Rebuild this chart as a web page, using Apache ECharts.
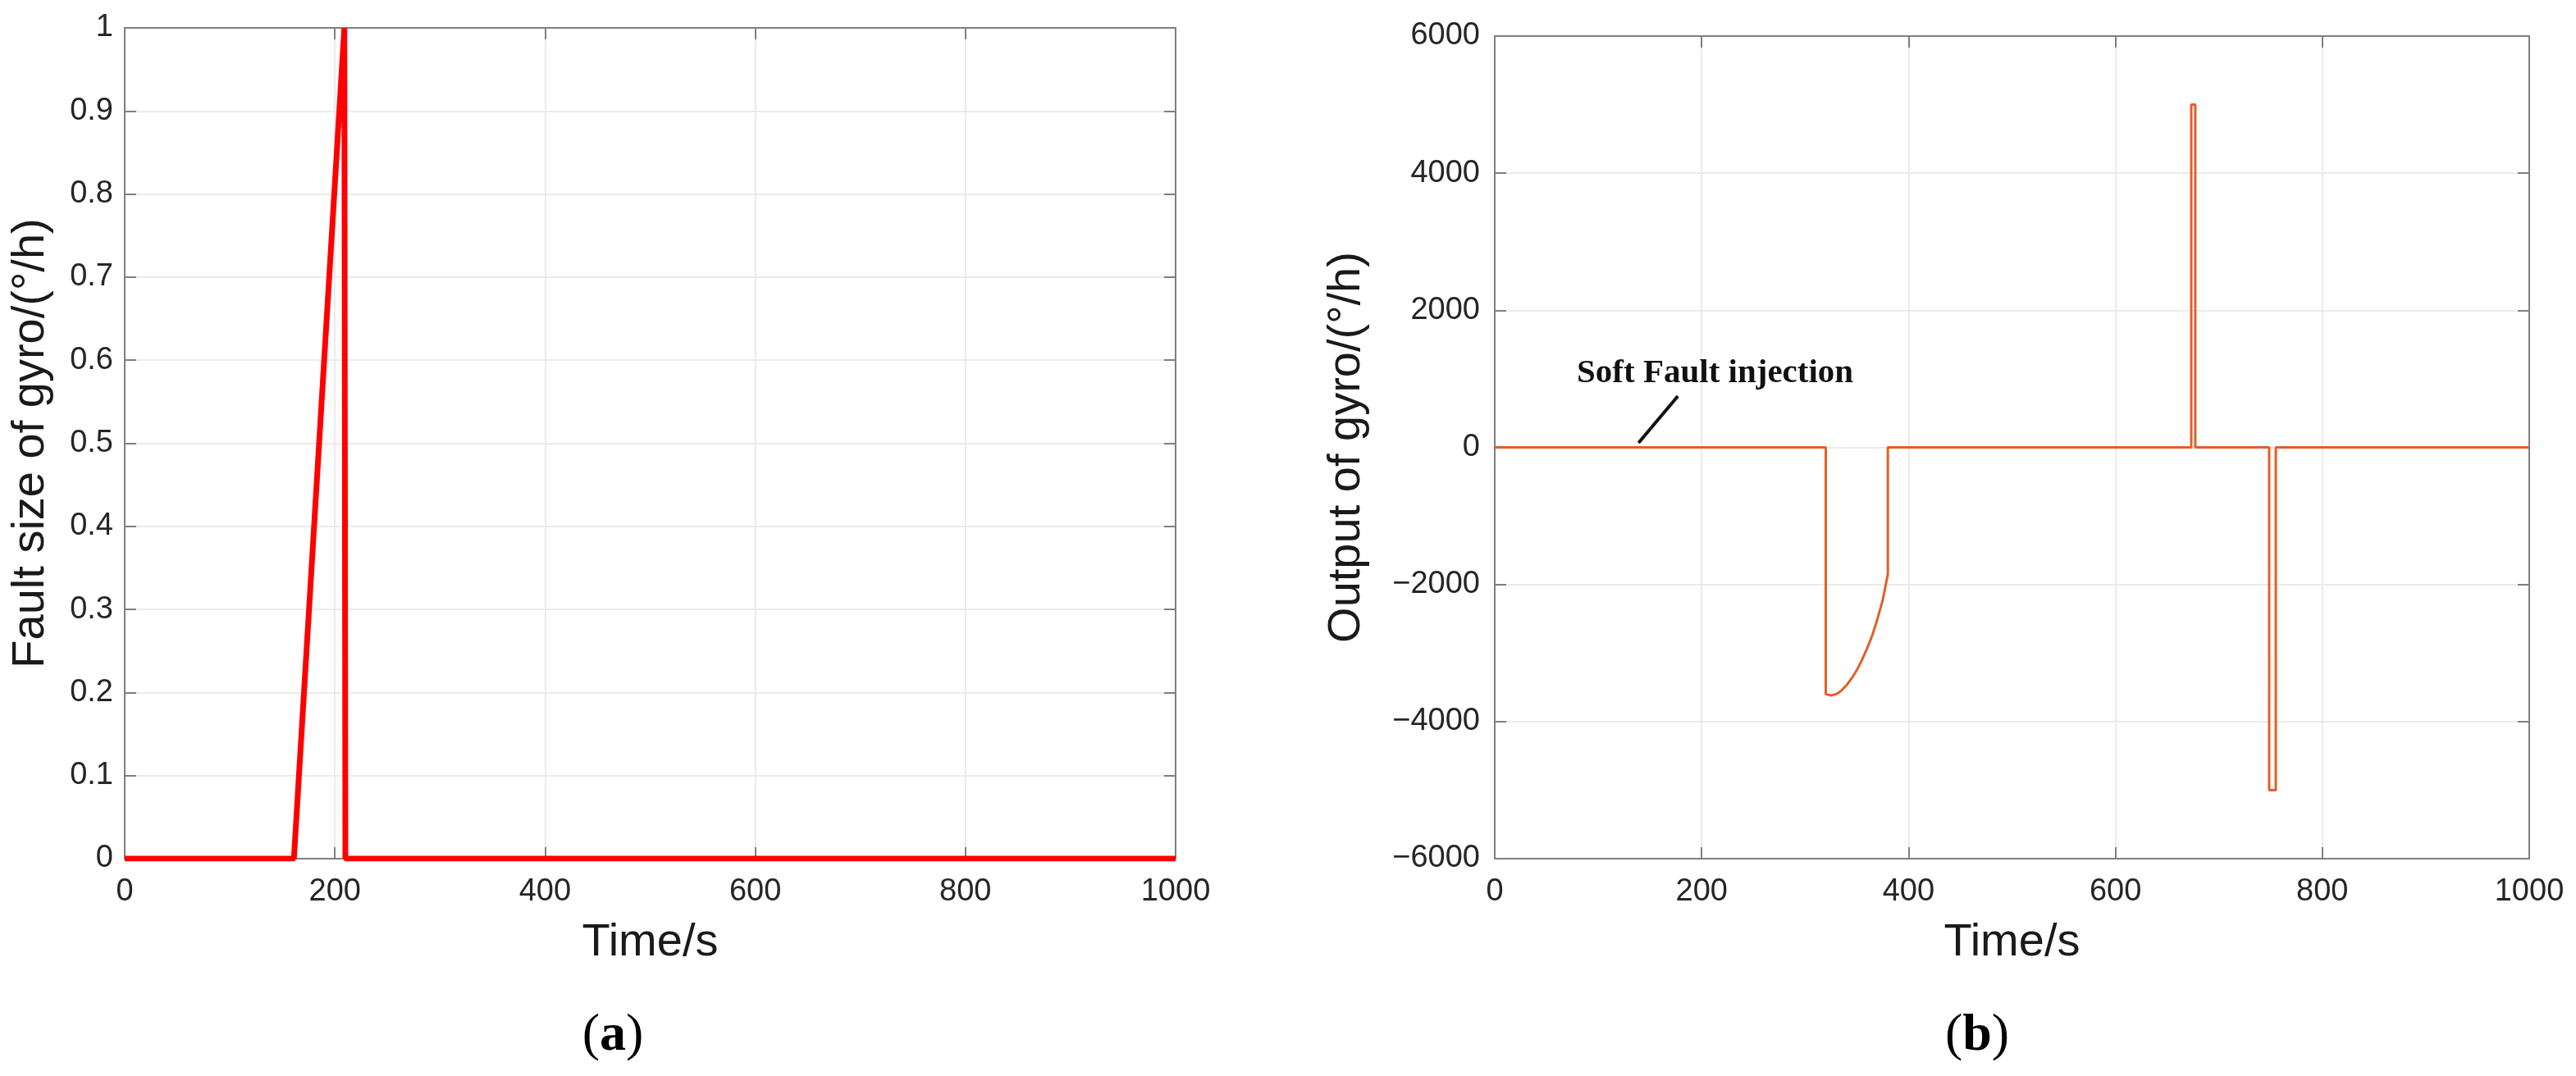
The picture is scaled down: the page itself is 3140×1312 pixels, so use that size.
<!DOCTYPE html>
<html>
<head>
<meta charset="utf-8">
<title>Gyro fault</title>
<script src="https://cdn.jsdelivr.net/npm/echarts@6/dist/echarts.min.js"></script>
<style>
  html, body { margin: 0; padding: 0; background: #fff; }
  #chart { width: 3140px; height: 1312px; }
</style>
</head>
<body>
<div id="chart"></div>
<script>
// (a) fault size of gyro
const faultTime = [0, 161, 209, 210, 210, 1000];
const faultSize = [0, 0, 1, 1, 0, 0];

// (b) output of gyro
const outputTime = [0, 320, 320, 325, 330, 335, 340, 345, 350, 355, 360, 365, 370, 375, 380, 380,
  673.3, 673.3, 677.2, 677.2, 748.6, 748.6, 755, 755, 1000];
const outputValue = [0, 0, -3600, -3620, -3600, -3550, -3470, -3370, -3250, -3100, -2930, -2740, -2500, -2230, -1850, 0,
  0, 5000, 5000, 0, 0, -5000, -5000, 0, 0];

// annotation: text anchor and arrow tail/head (data units of plot b)
const noteText = 'Soft Fault injection';
const notePos = [213, 1083];
const arrowTail = [177, 748];
const arrowHead = [139, 66];

// axis ticks
const timeMin = 0, timeMax = 1000, timeStep = 200;
const sizeMin = 0, sizeMax = 1, sizeStep = 0.1;
const outMin = -6000, outMax = 6000, outStep = 2000;

const pairs = (xs, ys) => xs.map((x, i) => [x, ys[i]]);

const axisColor = '#7f7f7f';
const labelColor = '#262626';
const gridColor = '#ebebeb';
const tickFont = { color: labelColor, fontSize: 38, fontFamily: 'Liberation Sans' };
const nameFont = { color: '#1a1a1a', fontSize: 56, fontFamily: 'Liberation Sans' };

// plain number, no thousand separator, minus sign for negatives
const plainFmt = (v) => (v < 0 ? '\u2212' + Math.abs(v) : String(v));

// main axis with labels, ticks inside, light grid
function mainAxis(extra) {
	return Object.assign({
		type: 'value',
		axisLine: { show: true, onZero: false, lineStyle: { color: axisColor, width: 2 } },
		axisTick: { show: true, inside: true, length: 14, lineStyle: { color: axisColor, width: 2 } },
		splitLine: { show: true, lineStyle: { color: gridColor, width: 2 } },
		nameTextStyle: Object.assign({}, nameFont),
		nameLocation: 'middle',
	}, extra);
}

// mirror axis (top / right) to close the box
function boxAxis(extra) {
	return Object.assign({
		type: 'value',
		axisLine: { show: true, onZero: false, lineStyle: { color: axisColor, width: 2 } },
		axisTick: { show: true, inside: true, length: 14, lineStyle: { color: axisColor, width: 2 } },
		splitLine: { show: false },
		axisLabel: { show: false },
	}, extra);
}

const option = {
	backgroundColor: '#fff',
	animation: false,
	grid: [
		{ left: 152, right: 1707, top: 34, bottom: 265 },
		{ left: 1822, right: 57, top: 44, bottom: 265 },
	],
	xAxis: [
		mainAxis({ gridIndex: 0, min: timeMin, max: timeMax, interval: timeStep, name: 'Time/s', nameGap: 75,
			axisLabel: Object.assign({ margin: 22, formatter: plainFmt }, tickFont) }),
		mainAxis({ gridIndex: 1, min: timeMin, max: timeMax, interval: timeStep, name: 'Time/s', nameGap: 75,
			axisLabel: Object.assign({ margin: 22, formatter: plainFmt }, tickFont) }),
		boxAxis({ gridIndex: 0, position: 'top', min: timeMin, max: timeMax, interval: timeStep }),
		boxAxis({ gridIndex: 1, position: 'top', min: timeMin, max: timeMax, interval: timeStep }),
	],
	yAxis: [
		mainAxis({ gridIndex: 0, min: sizeMin, max: sizeMax, interval: sizeStep, name: 'Fault size of gyro/(°/h)', nameGap: 86,
			axisLabel: Object.assign({ margin: 14 }, tickFont) }),
		mainAxis({ gridIndex: 1, min: outMin, max: outMax, interval: outStep, name: 'Output of gyro/(°/h)', nameGap: 152,
			axisLabel: Object.assign({ margin: 18, formatter: plainFmt }, tickFont) }),
		boxAxis({ gridIndex: 0, position: 'right', min: sizeMin, max: sizeMax, interval: sizeStep }),
		boxAxis({ gridIndex: 1, position: 'right', min: outMin, max: outMax, interval: outStep }),
	],
	series: [
		{
			type: 'line',
			xAxisIndex: 0,
			yAxisIndex: 0,
			data: pairs(faultTime, faultSize),
			showSymbol: false,
			lineStyle: { color: '#ff0000', width: 7 },
			z: 5,
		},
		{
			type: 'line',
			xAxisIndex: 1,
			yAxisIndex: 1,
			data: pairs(outputTime, outputValue),
			showSymbol: false,
			lineStyle: { color: '#e0602a', width: 3 },
			z: 5,
			markLine: {
				silent: true,
				symbol: ['none', 'arrow'],
				symbolSize: [0, 18],
				lineStyle: { color: '#111', width: 4, type: 'solid' },
				label: { show: false },
				data: [[{ coord: arrowTail }, { coord: arrowHead }]],
			},
			markPoint: {
				silent: true,
				symbol: 'circle',
				symbolSize: 0,
				label: {
					show: true,
					position: 'inside',
					formatter: noteText,
					color: '#111',
					fontSize: 41,
					fontWeight: 'bold',
					fontFamily: 'Liberation Serif',
				},
				data: [{ coord: notePos }],
			},
		},
	],
	graphic: [
		{
			type: 'text', x: 747, y: 1263,
			style: {
				text: '{p|(}{b|a}{p|)}', textAlign: 'center', textVerticalAlign: 'middle',
				rich: {
					p: { fontSize: 64, fontFamily: 'Liberation Serif', fill: '#000' },
					b: { fontSize: 64, fontFamily: 'Liberation Serif', fontWeight: 'bold', fill: '#000' },
				},
			},
		},
		{
			type: 'text', x: 2410, y: 1263,
			style: {
				text: '{p|(}{b|b}{p|)}', textAlign: 'center', textVerticalAlign: 'middle',
				rich: {
					p: { fontSize: 64, fontFamily: 'Liberation Serif', fill: '#000' },
					b: { fontSize: 64, fontFamily: 'Liberation Serif', fontWeight: 'bold', fill: '#000' },
				},
			},
		},
	],
};

const chart = echarts.init(document.getElementById('chart'));
chart.setOption(option);
</script>
</body>
</html>
